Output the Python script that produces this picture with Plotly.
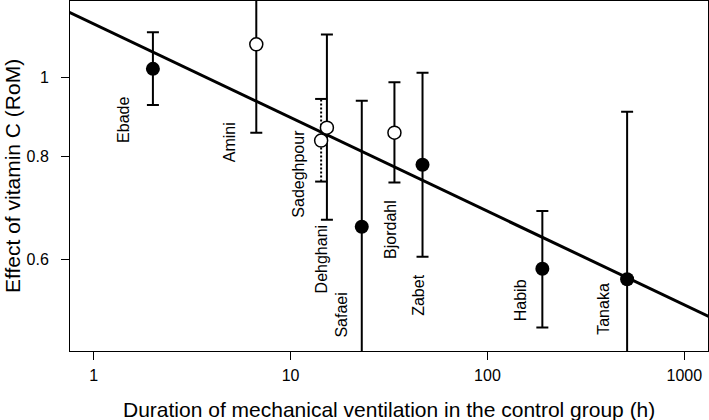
import numpy as np
import plotly.graph_objects as go

# ---------------- data ----------------
studies = ["Ebade", "Amini", "Sadeghpour", "Dehghani", "Safaei",
           "Bjordahl", "Zabet", "Habib", "Tanaka"]
duration_h = [2.0, 6.7, 14.3, 15.3, 23.0, 33.7, 46.8, 190.0, 512.0]
rom = [1.024, 1.097, 0.837, 0.868, 0.657, 0.856, 0.782, 0.584, 0.567]
ci_low = [0.925, 0.856, 0.746, 0.670, 0.40, 0.744, 0.604, 0.495, 0.40]
ci_high = [1.135, 1.40, 0.941, 1.128, 0.936, 0.986, 1.013, 0.687, 0.908]
filled = [True, False, False, False, True, False, True, True, True]
dotted_ci = [False, False, True, False, False, False, False, False, False]

# meta-regression line: RoM = a * duration^b
reg_a = 1.162
reg_b = -0.1143
ref_level = 1.0

x_ticks = [1, 10, 100, 1000]
x_tick_text = ["1", "10", "100", "1000"]
y_ticks = [0.6, 0.8, 1.0]
y_tick_text = ["0.6", "0.8", "1"]

# ---------------- layout helpers (positions) ----------------
label_y = [0.887, 0.834, 0.763, 0.601, 0.513, 0.652, 0.542, 0.535, 0.522]
label_dx = [-29, -26, -23, -5, -20, -4, -4, -21, -23]

FONT = "Liberation Sans, Arial, sans-serif"
W, H = 709, 420
ML, MR, MT, MB = 70, 1, 1, 69
X_RANGE = [-0.12, 3.12]
Y_RANGE = [-0.334, 0.0931]
PX_PER_DEC = (W - ML - MR) / (X_RANGE[1] - X_RANGE[0])
CAP_PX = 6

fig = go.Figure()

# regression line
xl = np.logspace(-0.3, 3.3, 200)
fig.add_trace(go.Scatter(x=xl, y=reg_a * xl ** reg_b, mode="lines",
                         line=dict(color="black", width=3), hoverinfo="skip"))

# error bars
for i in range(len(studies)):
    if dotted_ci[i]:
        d = duration_h[i]
        fig.add_trace(go.Scatter(x=[d, d], y=[ci_low[i], ci_high[i]], mode="lines",
                                 line=dict(color="black", width=2, dash="2px,2px")))
        f = 10 ** (CAP_PX / PX_PER_DEC)
        for v in (ci_low[i], ci_high[i]):
            fig.add_trace(go.Scatter(x=[d / f, d * f], y=[v, v], mode="lines",
                                     line=dict(color="black", width=2)))
    else:
        fig.add_trace(go.Scatter(
            x=[duration_h[i]], y=[rom[i]], mode="markers",
            marker=dict(size=1, color="rgba(0,0,0,0)"),
            error_y=dict(type="data", symmetric=False,
                         array=[ci_high[i] - rom[i]], arrayminus=[rom[i] - ci_low[i]],
                         color="black", thickness=2, width=CAP_PX)))

# points
fx = [d for d, f in zip(duration_h, filled) if f]
fy = [r for r, f in zip(rom, filled) if f]
ox = [d for d, f in zip(duration_h, filled) if not f]
oy = [r for r, f in zip(rom, filled) if not f]
fig.add_trace(go.Scatter(x=ox, y=oy, mode="markers",
                         marker=dict(symbol="circle", size=13, color="white",
                                     line=dict(color="black", width=1.5))))
fig.add_trace(go.Scatter(x=fx, y=fy, mode="markers",
                         marker=dict(symbol="circle", size=14, color="black")))

# reference line
fig.add_shape(type="line", xref="paper", x0=0, x1=1, yref="y",
              y0=np.log10(ref_level), y1=np.log10(ref_level),
              line=dict(color="black", width=1, dash="4px,3px"))

# study labels
for i, s in enumerate(studies):
    fig.add_annotation(x=np.log10(duration_h[i]), y=np.log10(label_y[i]),
                       xref="x", yref="y", text=s, textangle=-90, showarrow=False,
                       xshift=label_dx[i], xanchor="center", yanchor="middle",
                       font=dict(family=FONT, size=16, color="black"))

# axis titles
fig.add_annotation(text="Duration of mechanical ventilation in the control group (h)",
                   xref="paper", yref="paper", x=0.5, y=0, yshift=-58,
                   xanchor="center", yanchor="middle", showarrow=False,
                   font=dict(family=FONT, size=21, color="black"))
fig.add_annotation(text="Effect of vitamin C (RoM)", textangle=-90,
                   xref="paper", yref="paper", x=0, xshift=-58, y=0.5,
                   xanchor="center", yanchor="middle", showarrow=False,
                   font=dict(family=FONT, size=21, color="black"))

axis_common = dict(showgrid=False, zeroline=False, showline=True, mirror=True,
                   linecolor="black", linewidth=1, ticks="outside", ticklen=8,
                   tickwidth=1, tickcolor="black",
                   tickfont=dict(family=FONT, size=16, color="black"))
fig.update_xaxes(type="log", range=X_RANGE, tickvals=x_ticks, ticktext=x_tick_text,
                 ticklabelstandoff=2, **axis_common)
fig.update_yaxes(type="log", range=Y_RANGE, tickvals=y_ticks, ticktext=y_tick_text,
                 ticklabelstandoff=9, **axis_common)

fig.update_layout(width=W, height=H, showlegend=False,
                  margin=dict(l=ML, r=MR, t=MT, b=MB),
                  plot_bgcolor="white", paper_bgcolor="white",
                  font=dict(family=FONT, color="black"))

fig.write_html("out.html", config={"displayModeBar": False},
               post_script="document.body.style.margin='0';")
